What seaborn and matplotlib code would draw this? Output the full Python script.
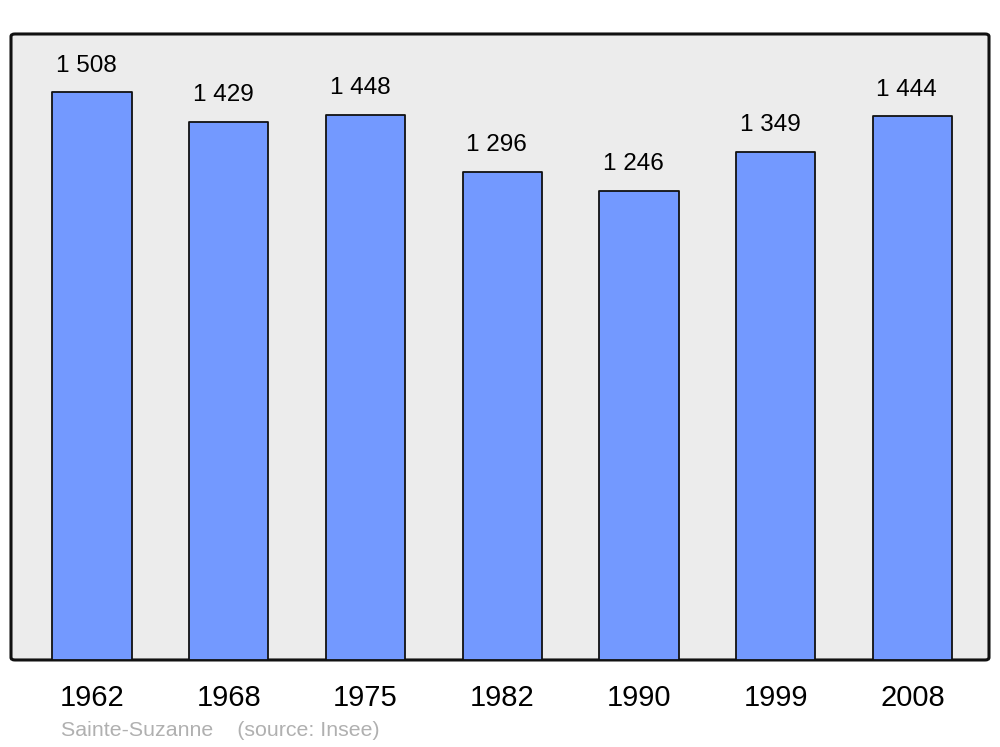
import pandas as pd
import matplotlib.pyplot as plt
import seaborn as sns
from matplotlib.patches import FancyBboxPatch

years = ['1962', '1968', '1975', '1982', '1990', '1999', '2008']
population = [1508, 1429, 1448, 1296, 1246, 1349, 1444]
source_text = 'Sainte-Suzanne    (source: Insee)'

sns.set_style('white')
plt.rcParams['font.family'] = ['Liberation Sans', 'DejaVu Sans']
plt.rcParams['text.color'] = 'black'
plt.rcParams['xtick.color'] = 'black'

df = pd.DataFrame({'year': years, 'pop': population})

fig = plt.figure(figsize=(10, 7.47), dpi=100)
ax = fig.add_axes([0.011, 0.1165, 0.978, 0.838])
ax.set_facecolor('none')

# cadre arrondi derriere les barres
frame = FancyBboxPatch((0, 0), 1, 1, boxstyle='round,pad=0,rounding_size=0.004',
                       transform=ax.transAxes, facecolor='#ececec', edgecolor='#111111',
                       linewidth=2.2, zorder=0, clip_on=False)
ax.add_patch(frame)

sns.barplot(data=df, x='year', y='pop', color='#7399ff', saturation=1,
            width=0.58, edgecolor='#111111', linewidth=1.3, ax=ax, zorder=2)

for p in ax.patches:
    if p is frame:
        continue
    p.set_joinstyle('round')

for i, v in enumerate(population):
    ax.annotate(f'{v:,}'.replace(',', ' '), (i, v), xytext=(-4, 19), textcoords='offset points',
                ha='center', va='center', fontsize=17.5, color='black')

ax.set_xlim(-0.592, 6.56)
ax.set_ylim(0, 1662)
ax.set_xlabel('')
ax.set_ylabel('')
ax.set_yticks([])
ax.tick_params(axis='x', length=0, pad=17, labelsize=21, labelcolor='black')
for s in ax.spines.values():
    s.set_visible(False)

fig.text(0.061, 1 - 730 / 747, source_text, color='#b0b0b0', fontsize=15.4, va='center')

plt.savefig('out.png', dpi=100)
